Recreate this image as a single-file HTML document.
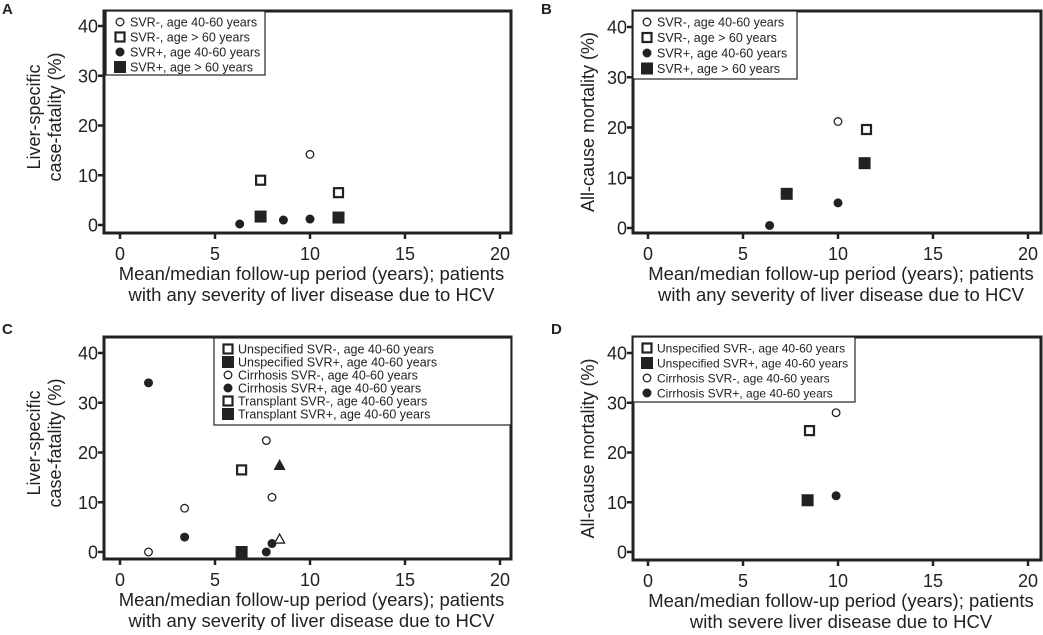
<!DOCTYPE html>
<html><head><meta charset="utf-8"><style>
body{margin:0;background:#fff;width:1043px;height:630px;overflow:hidden}
svg{font-family:"Liberation Sans","DejaVu Sans",sans-serif}
</style></head><body>
<svg id="c" width="1043" height="630" viewBox="0 0 1043 630"></svg>
<script>
// Panel A data
const aSeries = ["SVR-, age 40-60 years","SVR-, age > 60 years","SVR+, age 40-60 years","SVR+, age > 60 years"];
const aX = [[10],[7.4,11.5],[6.3,8.6,10],[7.4,11.5]];
const aY = [[14.2],[9,6.5],[0.2,1,1.2],[1.7,1.5]];
// Panel B data
const bX = [[10],[11.5],[6.4,10],[7.3,11.4]];
const bY = [[21.2],[19.6],[0.5,5],[6.8,12.9]];
// Panel C data
const cSeries = ["Unspecified SVR-, age 40-60 years","Unspecified SVR+, age 40-60 years","Cirrhosis SVR-, age 40-60 years","Cirrhosis SVR+, age 40-60 years","Transplant SVR-, age 40-60 years","Transplant SVR+, age 40-60 years"];
const cX = [[6.4],[6.4],[1.5,3.4,7.7,8],[1.5,3.4,7.7,8],[8.4],[8.4]];
const cY = [[16.5],[0],[0,8.8,22.4,11],[34,3,0,1.7],[2.6],[17.5]];
// Panel D data
const dSeries = ["Unspecified SVR-, age 40-60 years","Unspecified SVR+, age 40-60 years","Cirrhosis SVR-, age 40-60 years","Cirrhosis SVR+, age 40-60 years"];
const dX = [[8.5],[8.4],[9.9],[9.9]];
const dY = [[24.4],[10.4],[28],[11.3]];
const xTicks = [0,5,10,15,20];
const yTicks = [0,10,20,30,40];

const NS="http://www.w3.org/2000/svg";
const svg=document.getElementById('c');
function mk(tag,attrs,parent){const e=document.createElementNS(NS,tag);for(const k in attrs)e.setAttribute(k,attrs[k]);(parent||svg).appendChild(e);return e;}
function marker(g,type,cx,cy){
  let e;
  if(type==='oc'){e=mk('circle',{cx:cx,cy:cy,r:3.8,fill:'#fff',stroke:'#222','stroke-width':1.3},g);}
  else if(type==='fc'){e=mk('circle',{cx:cx,cy:cy,r:4.5,fill:'#222'},g);}
  else if(type==='os'){e=mk('rect',{x:cx-4.5,y:cy-4.5,width:9,height:9,fill:'#fff',stroke:'#222','stroke-width':2.2},g);}
  else if(type==='fs'){e=mk('rect',{x:cx-6,y:cy-6,width:12,height:12,fill:'#222'},g);}
  else if(type==='ot'){e=mk('polygon',{points:`${cx},${cy-5} ${cx-5},${cy+4} ${cx+5},${cy+4}`,fill:'#fff',stroke:'#222','stroke-width':1.3},g);}
  else if(type==='ft'){e=mk('polygon',{points:`${cx},${cy-6} ${cx-6},${cy+5} ${cx+6},${cy+5}`,fill:'#222'},g);}
  return e;
}
function panel(p){
  const g=mk('g',{});
  
  
  const sx=v=>p.x0+(p.x20-p.x0)*v/20, sy=v=>p.y0+(p.y40-p.y0)*v/40;
  const lab=mk('text',{x:p.lx,y:p.ly,'font-size':15,'font-weight':'bold',fill:'#222'},g);lab.textContent=p.id;
  
  const box=mk('rect',{x:p.bx,y:p.by,width:p.bw,height:p.bh,fill:'none',stroke:'#222','stroke-width':3},g);
  
  xTicks.forEach(t=>{
    const X=sx(t);
    mk('line',{x1:X,x2:X,y1:p.by+p.bh,y2:p.by+p.bh+6,stroke:'#222','stroke-width':2.5},g);
    const tx=mk('text',{x:X,y:p.by+p.bh+27,'font-size':18,'text-anchor':'middle',fill:'#222'},g);tx.textContent=t;
    
  });
  yTicks.forEach(t=>{
    const Y=sy(t);
    mk('line',{x1:p.bx-6,x2:p.bx,y1:Y,y2:Y,stroke:'#222','stroke-width':2.5},g);
    const ty=mk('text',{x:p.bx-6,y:Y+6.5,'font-size':18,'text-anchor':'end',fill:'#222'},g);ty.textContent=t;
    
  });
  p.xt.forEach((s,i)=>{const t=mk('text',{x:(p.bx+p.bw/2)+4,y:p.by+p.bh+47+i*21,'font-size':18.5,'text-anchor':'middle',fill:'#222'},g);t.textContent=s;
    });
  const cy=p.by+p.bh/2+ (p.yt.length===1?0:-5);
  p.yt.forEach((s,i)=>{const X=p.ytx+i*21;const t=mk('text',{x:X,y:cy,'font-size':18,'text-anchor':'middle',fill:'#222',transform:`rotate(-90 ${X} ${cy})`},g);t.textContent=s;
    });
  const lg=mk('g',{},g);
  mk('rect',{x:p.lgx,y:p.lgy,width:p.lgw,height:p.lgh,fill:'#fff',stroke:'#222','stroke-width':1.2},lg);
  p.names.forEach((n,i)=>{
    const yy=p.lgy+11+i*p.lgs;
    const e=mk('g',{},lg);
    marker(e,p.ltypes[i],p.lgx+14,yy);
    const t=mk('text',{x:p.lgx+24,y:yy+4.5,'font-size':p.lfs||12.5,fill:'#222'},e);t.textContent=n;
  });
  p.X.forEach((arr,si)=>arr.forEach((v,j)=>{
    const m=marker(g,p.types[si],sx(v),sy(p.Y[si][j]));
    
    
  }));
}
const xtAny=["Mean/median follow-up period (years); patients","with any severity of liver disease due to HCV"];
panel({id:'A',lx:2,ly:14,bx:104,by:11,bw:407,bh:222,x0:120,x20:500,y0:225,y40:26,xt:xtAny,yt:["Liver-specific","case-fatality (%)"],ytx:40,
 lgx:106,lgy:11,lgw:159,lgh:64,lgs:15,names:aSeries,ltypes:['oc','os','fc','fs'],types:['oc','os','fc','fs'],X:aX,Y:aY});
panel({id:'B',lx:541,ly:14,bx:633,by:11,bw:408,bh:222,x0:648,x20:1028,y0:228,y40:27,xt:xtAny,yt:["All-cause mortality (%)"],ytx:594,
 lgx:633,lgy:11,lgw:164,lgh:68,lgs:15.5,names:aSeries,ltypes:['oc','os','fc','fs'],types:['oc','os','fc','fs'],X:bX,Y:bY});
panel({id:'C',lx:2,ly:334,bx:104,by:337,bw:407,bh:222,x0:120,x20:500,y0:552,y40:353,xt:xtAny,yt:["Liver-specific","case-fatality (%)"],ytx:40,
 lgx:214,lgy:338,lgw:297,lgh:87,lgs:13,names:cSeries,ltypes:['os','fs','oc','fc','os','fs'],types:['os','fs','oc','fc','ot','ft'],X:cX,Y:cY});
panel({id:'D',lx:551,ly:334,bx:633,by:337,bw:408,bh:223,x0:648,x20:1028,y0:552,y40:353,xt:["Mean/median follow-up period (years); patients","with severe liver disease due to HCV"],yt:["All-cause mortality (%)"],ytx:594,
 lgx:633,lgy:337,lgw:222,lgh:65,lgs:15,lfs:12,names:dSeries,ltypes:['os','fs','oc','fc'],types:['os','fs','oc','fc'],X:dX,Y:dY});
</script>
</body></html>
